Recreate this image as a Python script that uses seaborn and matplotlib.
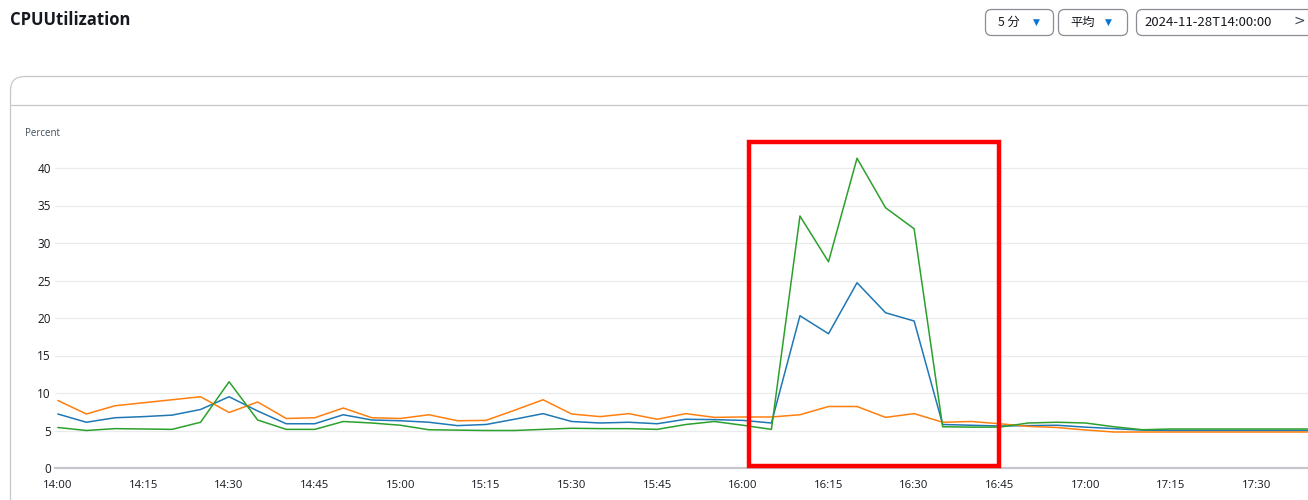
#!/usr/bin/env python3
import matplotlib

matplotlib.use("Agg")

import matplotlib.pyplot as plt
import matplotlib.transforms as mtransforms
import pandas as pd
import seaborn as sns
from matplotlib.patches import FancyBboxPatch, Rectangle

# minutes after 14:00, one sample every 5 minutes (14:00 .. 17:40)
MINUTES = list(range(0, 225, 5))

SERIES_BLUE = [
    7.2, 6.1, 6.7, 6.85, 7.05, 7.8, 9.5, 7.6, 5.9, 5.9, 7.1, 6.4, 6.3, 6.1,
    5.65, 5.8, 6.5, 7.25, 6.2, 6.0, 6.1, 5.9, 6.5, 6.45, 6.35, 6.0,
    20.3, 17.9, 24.7, 20.7, 19.6,
    5.8, 5.7, 5.6, 5.65, 5.7, 5.45, 5.25, 5.05,
    5.0, 5.0, 5.0, 5.0, 5.0, 5.0,
]
SERIES_ORANGE = [
    9.0, 7.2, 8.3, 8.7, 9.1, 9.5, 7.4, 8.8, 6.6, 6.7, 8.0, 6.7, 6.6, 7.1,
    6.3, 6.35, 7.7, 9.1, 7.2, 6.85, 7.25, 6.5, 7.25, 6.75, 6.8, 6.8,
    7.1, 8.2, 8.2, 6.75, 7.25,
    6.1, 6.2, 5.9, 5.55, 5.4, 5.07, 4.8, 4.8,
    4.8, 4.8, 4.8, 4.8, 4.8, 4.8,
]
SERIES_GREEN = [
    5.4, 5.0, 5.25, 5.2, 5.15, 6.1, 11.5, 6.4, 5.15, 5.15, 6.2, 6.0, 5.7, 5.1,
    5.05, 5.0, 5.0, 5.15, 5.3, 5.25, 5.25, 5.15, 5.8, 6.2, 5.7, 5.15,
    33.6, 27.5, 41.3, 34.7, 31.9,
    5.5, 5.45, 5.45, 6.0, 6.1, 6.0, 5.5, 5.1,
    5.2, 5.2, 5.2, 5.2, 5.2, 5.2,
]

SERIES_NAMES = ["blue", "orange", "green"]
PALETTE = ["#1f77b4", "#ff7f0e", "#2ca02c"]

X_TICKS = list(range(0, 211, 15))
X_TICK_LABELS = [
    "14:00", "14:15", "14:30", "14:45", "15:00", "15:15", "15:30", "15:45",
    "16:00", "16:15", "16:30", "16:45", "17:00", "17:15", "17:30",
]
Y_TICKS = [0, 5, 10, 15, 20, 25, 30, 35, 40]

W, H, DPI = 1308, 500, 100
UI_FONT = ["Open Sans", "DejaVu Sans"]
CJK_FONT = ["Noto Sans CJK JP", "DejaVu Sans"]


def build_frame() -> pd.DataFrame:
    rows = []
    for name, values in zip(SERIES_NAMES, [SERIES_BLUE, SERIES_ORANGE, SERIES_GREEN]):
        for minute, value in zip(MINUTES, values):
            rows.append({"minute": minute, "value": value, "series": name})
    return pd.DataFrame(rows)


def main() -> None:
    sns.set_theme(style="white")
    plt.rcParams["font.family"] = UI_FONT

    fig = plt.figure(figsize=(W / DPI, H / DPI), dpi=DPI)
    # top-left pixel coordinates -> display
    px = mtransforms.Affine2D().scale(1 / DPI, -1 / DPI).translate(0, H / DPI) + fig.dpi_scale_trans

    # panel frame
    fig.patches.append(FancyBboxPatch((10.5, 76.5), 1400, 500, boxstyle="round,pad=0,rounding_size=14",
                                      transform=px, facecolor="none", edgecolor="#c6c6cd", linewidth=0.9))
    fig.lines.append(plt.Line2D([11, 1308], [104.5, 104.5], transform=px, color="#c6c6cd", linewidth=0.9))

    fig.text(10, 20, "CPUUtilization", transform=px, fontsize=12, fontweight="bold",
             color="#16191f", va="center", ha="left", family=UI_FONT)
    fig.text(25, 133, "Percent", transform=px, fontsize=7, color="#414d5c",
             va="center", ha="left", family=UI_FONT)

    # controls at top right
    for x0, w in [(985.5, 68), (1058.5, 69), (1136.5, 200)]:
        fig.patches.append(FancyBboxPatch((x0, 9.5), w, 26, boxstyle="round,pad=0,rounding_size=6",
                                          transform=px, facecolor="none", edgecolor="#8c8c94", linewidth=0.9))
    fig.text(998, 22, "5 分", transform=px, fontsize=8.8, color="#16191f", va="center", ha="left", family=CJK_FONT)
    fig.text(1070, 22, "平均", transform=px, fontsize=8.8, color="#16191f", va="center", ha="left", family=CJK_FONT)
    for tx in [1036, 1108]:
        fig.text(tx, 22, "▼", transform=px, fontsize=6.5, color="#0972d3", va="center", ha="center",
                 family=["DejaVu Sans"])
    fig.text(1144, 22, "2024-11-28T14:00:00", transform=px, fontsize=9.5, color="#16191f",
             va="center", ha="left", family=CJK_FONT)
    fig.text(1299, 21, ">", transform=px, fontsize=10, color="#414d5c", va="center", ha="center",
             family=["DejaVu Sans"])

    ax = fig.add_axes([55 / W, (H - 468) / H, (W - 55) / W, (468 - 144) / H])
    ax.set_facecolor("none")
    df = build_frame()
    sns.lineplot(data=df, x="minute", y="value", hue="series", hue_order=SERIES_NAMES,
                 palette=PALETTE, linewidth=1.1, legend=False, ax=ax)

    ax.set_xlim(-0.5, 219)
    ax.set_ylim(0, 43.2)
    ax.set_xticks(X_TICKS, X_TICK_LABELS)
    ax.set_yticks(Y_TICKS)
    ax.set_xlabel("")
    ax.set_ylabel("")
    ax.grid(axis="y", color="#e9ebed", linewidth=0.9)
    ax.set_axisbelow(True)
    for side in ["top", "right", "left"]:
        ax.spines[side].set_visible(False)
    ax.spines["bottom"].set_color("#c6c6cd")
    ax.spines["bottom"].set_linewidth(1.6)
    ax.tick_params(axis="x", length=4, width=0.8, color="#c6c6cd", pad=5, labelsize=8.2, labelcolor="#16191f")
    ax.tick_params(axis="y", length=0, pad=3, labelsize=8.5, labelcolor="#16191f")

    # highlighted region
    ax.add_patch(Rectangle((121.1, 0.27), 43.7, 43.2, fill=False, edgecolor="#ff0000",
                           linewidth=3.2, clip_on=False, zorder=6))

    fig.savefig("out.png", dpi=DPI)
    plt.close(fig)


if __name__ == "__main__":
    main()
